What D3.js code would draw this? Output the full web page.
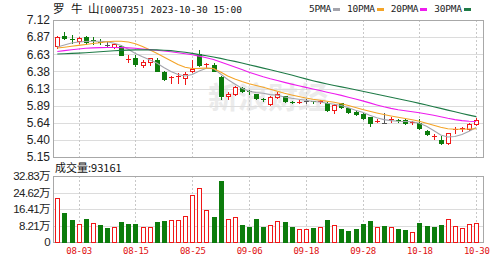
<!DOCTYPE html>
<html>
<head>
<meta charset="utf-8">
<script src="https://cdn.jsdelivr.net/npm/d3@7"></script>
<style>
  html, body { margin: 0; padding: 0; background: #fff; }
  svg { display: block; }
</style>
</head>
<body>
<svg id="chart" width="503" height="262"></svg>
<script>
// ---- daily K-line data, 罗牛山 (000735) ----
const dates = [
  "07-31","08-01","08-02","08-03","08-04","08-07","08-08","08-09","08-10","08-11",
  "08-14","08-15","08-16","08-17","08-18","08-21","08-22","08-23","08-24","08-25",
  "08-28","08-29","08-30","08-31","09-01","09-04","09-05","09-06","09-07","09-08",
  "09-11","09-12","09-13","09-14","09-15","09-18","09-19","09-20","09-21","09-22",
  "09-25","09-26","09-27","09-28","10-09","10-10","10-11","10-12","10-13","10-16",
  "10-17","10-18","10-19","10-20","10-23","10-24","10-25","10-26","10-27","10-30"
];
const openPrice = [
  6.74,6.89,6.84,6.82,6.87,6.83,6.81,6.76,6.73,6.74,
  6.55,6.58,6.47,6.51,6.55,6.37,6.29,6.30,6.28,6.38,
  6.63,6.48,6.48,6.30,6.03,6.05,6.14,6.10,6.05,5.99,
  5.91,6.01,6.02,5.94,5.93,5.95,5.95,5.94,5.93,5.82,
  5.92,5.85,5.80,5.77,5.72,5.665,5.64,5.68,5.68,5.68,
  5.64,5.64,5.53,5.44,5.40,5.35,5.54,5.55,5.55,5.63
];
const highPrice = [
  6.89,6.95,6.90,6.88,6.89,6.87,6.84,6.80,6.78,6.76,
  6.61,6.62,6.55,6.58,6.57,6.38,6.32,6.36,6.37,6.55,
  6.69,6.50,6.50,6.32,6.09,6.17,6.15,6.11,6.06,6.00,
  6.02,6.09,6.03,5.96,5.97,5.98,5.96,5.97,5.94,5.91,
  5.93,5.86,5.81,5.78,5.72,5.69,5.78,5.72,5.69,5.69,
  5.67,5.69,5.54,5.48,5.45,5.50,5.58,5.58,5.64,5.71
];
const lowPrice = [
  6.72,6.84,6.79,6.79,6.78,6.78,6.77,6.74,6.72,6.61,
  6.52,6.46,6.44,6.47,6.38,6.26,6.22,6.22,6.20,6.37,
  6.46,6.44,6.38,5.99,5.99,6.04,6.08,6.06,5.99,5.96,
  5.90,6.00,5.94,5.92,5.92,5.92,5.93,5.93,5.81,5.78,
  5.86,5.78,5.76,5.70,5.59,5.65,5.64,5.65,5.65,5.63,
  5.62,5.55,5.47,5.41,5.33,5.34,5.50,5.52,5.54,5.61
];
const closePrice = [
  6.88,6.86,6.83,6.86,6.81,6.82,6.80,6.76,6.77,6.62,
  6.56,6.49,6.52,6.57,6.39,6.27,6.30,6.31,6.35,6.42,
  6.47,6.49,6.39,6.02,6.05,6.15,6.10,6.09,6.00,5.98,
  6.01,6.06,5.95,5.93,5.94,5.95,5.94,5.95,5.82,5.90,
  5.87,5.79,5.77,5.71,5.64,5.67,5.64,5.69,5.67,5.64,
  5.65,5.56,5.48,5.45,5.35,5.49,5.55,5.56,5.63,5.68
];
const volume = [
  221000,142000,109000,91000,114000,94000,84000,68000,74000,99000,
  91000,91000,76000,76000,101000,106000,109000,107000,127000,233000,
  267000,157000,124000,302000,114000,124000,86000,73000,114000,73000,
  86000,104000,97000,73000,66000,66000,68000,73000,109000,86000,
  64000,54000,64000,91000,104000,76000,81000,73000,66000,58000,
  50000,96000,79000,74000,84000,114000,79000,68000,91000,93161
];

// moving averages (5 / 10 / 20 / 30 days)
const ma5 = [
  6.732,6.760,6.789,6.804,6.811,6.814,6.814,6.807,6.785,6.752,
  6.700,6.638,6.591,6.549,6.502,6.437,6.379,6.336,6.315,6.336,
  6.387,6.427,6.421,6.343,6.264,6.200,6.138,6.095,6.077,6.067,
  6.047,6.037,6.013,5.994,5.980,5.965,5.948,5.941,5.922,5.909,
  5.891,5.857,5.823,5.793,5.750,5.714,5.688,5.673,5.665,5.660,
  5.656,5.635,5.591,5.531,5.466,5.438,5.445,5.473,5.521,5.574
];
const ma10 = [
  6.717,6.729,6.742,6.755,6.768,6.781,6.794,6.807,6.815,6.815,
  6.804,6.778,6.739,6.691,6.641,6.588,6.533,6.480,6.440,6.423,
  6.425,6.430,6.423,6.372,6.315,6.272,6.236,6.204,6.177,6.152,
  6.123,6.095,6.066,6.042,6.019,5.998,5.981,5.967,5.952,5.937,
  5.916,5.891,5.862,5.833,5.807,5.783,5.761,5.740,5.721,5.704,
  5.686,5.665,5.636,5.606,5.577,5.557,5.548,5.548,5.553,5.557
];
const ma20 = [
  6.667,6.680,6.693,6.704,6.713,6.719,6.723,6.725,6.725,6.723,
  6.719,6.713,6.704,6.694,6.684,6.674,6.663,6.650,6.635,6.620,
  6.601,6.578,6.551,6.516,6.480,6.444,6.407,6.369,6.335,6.303,
  6.274,6.249,6.223,6.198,6.174,6.151,6.128,6.105,6.082,6.059,
  6.036,6.010,5.984,5.957,5.928,5.899,5.872,5.849,5.830,5.814,
  5.800,5.786,5.768,5.750,5.728,5.706,5.688,5.673,5.665,5.660
];
const ma30 = [
  6.631,6.635,6.640,6.644,6.650,6.656,6.663,6.670,6.677,6.683,
  6.687,6.690,6.691,6.691,6.690,6.686,6.679,6.668,6.656,6.640,
  6.622,6.605,6.588,6.568,6.546,6.525,6.502,6.477,6.453,6.428,
  6.404,6.379,6.354,6.328,6.300,6.273,6.247,6.223,6.200,6.178,
  6.158,6.138,6.116,6.095,6.073,6.052,6.030,6.008,5.987,5.965,
  5.944,5.921,5.898,5.873,5.849,5.824,5.800,5.775,5.752,5.731
];

// axis labels
const priceMin = 5.15, priceMax = 7.12;
const priceTickLabels = ["5.15","5.40","5.64","5.89","6.13","6.38","6.63","6.87","7.12"];
const volumeMax = 328300;
const volumeTickLabels = ["0","8.21万","16.41万","24.62万","32.83万"];
const dateTicks = ["08-03","08-15","08-25","09-06","09-18","09-28","10-18","10-30"];
const legendItems = [
  { label: "5PMA",  color: "#a4a4ac" },
  { label: "10PMA", color: "#f4a428" },
  { label: "20PMA", color: "#ee1cee" },
  { label: "30PMA", color: "#1e7a46" }
];
const maSeries = [ma5, ma10, ma20, ma30];

// ---- layout ----
const plotLeft = 53, plotRight = 483;
const priceTop = 20, priceBottom = 157;
const volTop = 176, volBottom = 242;
const RED = "#f01818", GREEN = "#0c7c0c", DOJI = "#555";
const GRID = "#dcdcdc", VGRID = "#c8c8c8", BORDER = "#a8a8a8";

const svg = d3.select("#chart");

const x = d3.scalePoint().domain(dates).range([57.3, 476.2]);
const yP = d3.scaleLinear().domain([priceMin, priceMax]).range([priceBottom, priceTop]);
const yV = d3.scaleLinear().domain([0, volumeMax]).range([volBottom, volTop]);
const px = d => Math.round(x(d));

const priceTickValues = priceTickLabels.map((_, k) => priceMin + k * (priceMax - priceMin) / (priceTickLabels.length - 1));
const volTickValues = volumeTickLabels.map((_, k) => k * volumeMax / (volumeTickLabels.length - 1));

// watermark
svg.append("text")
  .attr("x", 268).attr("y", 108)
  .attr("text-anchor", "middle")
  .attr("font-family", "Noto Sans CJK SC")
  .attr("font-size", 30).attr("font-weight", "bold")
  .attr("fill", "#ebebeb")
  .text("新浪财经");

// ---- grids ----
function panelGrid(top, bottom, yScale, values) {
  const g = svg.append("g").attr("shape-rendering", "crispEdges");
  g.selectAll("line.h").data(values).join("line")
    .attr("x1", plotLeft).attr("x2", plotRight)
    .attr("y1", d => Math.round(yScale(d)) + 0.5)
    .attr("y2", d => Math.round(yScale(d)) + 0.5)
    .attr("stroke", GRID);
  g.selectAll("line.v").data(dateTicks).join("line")
    .attr("x1", d => px(d) + 0.5).attr("x2", d => px(d) + 0.5)
    .attr("y1", top).attr("y2", bottom)
    .attr("stroke", VGRID).attr("stroke-dasharray", "2,2");
  g.append("rect")
    .attr("x", plotLeft + 0.5).attr("y", top + 0.5)
    .attr("width", plotRight - plotLeft).attr("height", bottom - top)
    .attr("fill", "none").attr("stroke", BORDER);
}
panelGrid(priceTop, priceBottom, yP, priceTickValues);
panelGrid(volTop, volBottom, yV, volTickValues);

// ---- axes ----
const axisFont = "Liberation Sans, Arial, sans-serif";
const priceAxis = svg.append("g")
  .attr("transform", `translate(${plotLeft},0)`)
  .call(d3.axisLeft(yP).tickValues(priceTickValues)
    .tickFormat((d, i) => priceTickLabels[i]).tickSize(0).tickPadding(3));
priceAxis.select(".domain").remove();
priceAxis.selectAll("text").attr("font-family", axisFont).attr("font-size", 12).attr("fill", "#222");

const volAxis = svg.append("g")
  .attr("transform", `translate(${plotLeft},0)`)
  .call(d3.axisLeft(yV).tickValues(volTickValues)
    .tickFormat((d, i) => volumeTickLabels[i]).tickSize(0).tickPadding(3));
volAxis.select(".domain").remove();
volAxis.selectAll("text").attr("font-family", "Liberation Sans, Noto Sans CJK SC, sans-serif")
  .attr("font-size", 11.5).attr("letter-spacing", "-0.6").attr("fill", "#222");

const dateAxis = svg.append("g")
  .attr("transform", `translate(0,${volBottom})`)
  .call(d3.axisBottom(x).tickValues(dateTicks).tickSize(0).tickPadding(6));
dateAxis.select(".domain").remove();
dateAxis.selectAll("text").attr("font-family", "DejaVu Sans Mono, monospace")
  .attr("font-size", 9).attr("letter-spacing", "-0.3").attr("fill", "#e01010");

// ---- candlesticks ----
const candles = dates.map((d, i) => ({
  d, o: openPrice[i], h: highPrice[i], l: lowPrice[i], c: closePrice[i]
}));
const cg = svg.append("g").attr("shape-rendering", "crispEdges");
candles.forEach(k => {
  const cx = px(k.d);
  const color = k.c > k.o ? RED : (k.c < k.o ? GREEN : DOJI);
  const yo = Math.round(yP(k.o)), yc = Math.round(yP(k.c));
  const top = Math.min(yo, yc), bot = Math.max(yo, yc);
  cg.append("line")
    .attr("x1", cx + 0.5).attr("x2", cx + 0.5)
    .attr("y1", Math.round(yP(k.h))).attr("y2", Math.round(yP(k.l)) + 1)
    .attr("stroke", color);
  if (bot - top < 2) {
    cg.append("line")
      .attr("x1", cx - 2).attr("x2", cx + 3)
      .attr("y1", top + 0.5).attr("y2", top + 0.5)
      .attr("stroke", color);
  } else if (k.c > k.o) {
    cg.append("rect")
      .attr("x", cx - 1.5).attr("y", top + 0.5)
      .attr("width", 4).attr("height", bot - top)
      .attr("fill", "#fff").attr("stroke", color);
  } else {
    cg.append("rect")
      .attr("x", cx - 2).attr("y", top)
      .attr("width", 5).attr("height", bot - top + 1)
      .attr("fill", color);
  }
});

// ---- moving average lines ----
svg.append("clipPath").attr("id", "priceClip")
  .append("rect").attr("x", plotLeft).attr("y", priceTop)
  .attr("width", plotRight - plotLeft).attr("height", priceBottom - priceTop);
const line = d3.line().x((v, i) => x(dates[i])).y(v => yP(v));
const mg = svg.append("g").attr("clip-path", "url(#priceClip)");
maSeries.forEach((s, j) => {
  mg.append("path").attr("d", line(s))
    .attr("fill", "none").attr("stroke", legendItems[j].color).attr("stroke-width", 1.1);
});

// ---- volume bars ----
const vg = svg.append("g").attr("shape-rendering", "crispEdges");
volume.forEach((v, i) => {
  const up = i === 0 ? closePrice[0] >= openPrice[0] : closePrice[i] >= closePrice[i - 1];
  const cx = px(dates[i]);
  const top = Math.round(yV(v));
  if (up) {
    vg.append("rect")
      .attr("x", cx - 1.5).attr("y", top + 0.5)
      .attr("width", 4).attr("height", volBottom - top - 0.5)
      .attr("fill", "#fff").attr("stroke", RED);
  } else {
    vg.append("rect")
      .attr("x", cx - 2).attr("y", top)
      .attr("width", 5).attr("height", volBottom - top + 1)
      .attr("fill", GREEN);
  }
});

// ---- header ----
const title = svg.append("text").attr("y", 13).attr("fill", "#111");
[["罗", 53], ["牛", 71], ["山", 88]].forEach(([ch, tx]) => {
  title.append("tspan").attr("x", tx)
    .attr("font-family", "Noto Sans CJK SC").attr("font-size", 11.5).text(ch);
});
title.append("tspan").attr("x", 99)
  .attr("font-family", "DejaVu Sans Mono, monospace").attr("font-size", 9.5)
  .text("[000735] 2023-10-30 15:00");

// legend
let lx = 309;
legendItems.forEach(item => {
  const t = svg.append("text").attr("x", lx).attr("y", 12)
    .attr("font-family", "DejaVu Sans Mono, monospace").attr("font-size", 9.5)
    .attr("letter-spacing", "-0.2").attr("fill", "#222").text(item.label);
  const w = t.node().getComputedTextLength();
  svg.append("rect").attr("x", Math.round(lx + w + 2)).attr("y", 8)
    .attr("width", 7).attr("height", 3).attr("fill", item.color);
  lx += w + 16;
});

// volume caption
const cap = svg.append("text").attr("x", 55).attr("y", 172).attr("fill", "#111")
  .attr("font-family", "Noto Sans CJK SC").attr("font-size", 11);
cap.append("tspan").text("成交量:");
cap.append("tspan").text(volume[volume.length - 1]);
</script>
</body>
</html>
